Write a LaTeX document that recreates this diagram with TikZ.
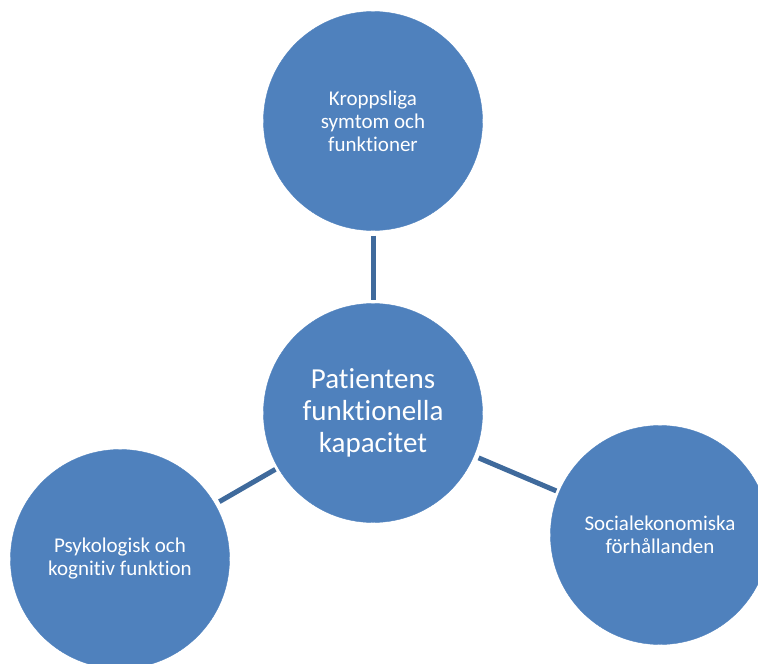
\documentclass[tikz,border=0pt]{standalone}
\usepackage{fontspec}
\setmainfont{Carlito}[Ligatures = NoCommon]
\usetikzlibrary{positioning}

\definecolor{ballblue}{HTML}{4F81BD}
\definecolor{linkblue}{HTML}{3F6A9C}

\tikzset{
	ball/.style = {circle, fill = ballblue, draw = ballblue, inner sep = 0pt, minimum size = 219pt,
		text = white, align = center, font = \fontsize{21}{23}\selectfont},
	hubball/.style = {ball, font = \fontsize{29}{32}\selectfont},
	link/.style = {linkblue, line width = 5pt, shorten <= 5pt, shorten >= 3pt}
}

\begin{document}
\begin{tikzpicture}[x = 1pt, y = -1pt]
					\useasboundingbox (0, 0) rectangle (758, 664);
					\node [hubball] (hub) at (373, 413) {Patientens\\funktionella\\kapacitet};
					\node [ball] (body) at (373, 121) {Kroppsliga\\symtom och\\funktioner};
					\node [ball] (mind) at (120, 559) {Psykologisk och\\kognitiv funktion};
					\node [ball] (social) at (660, 535) {Socialekonomiska\\förhållanden};
					\draw [link] (body) -- (hub);
					\draw [link] (mind) -- (hub);
					\draw [link] (hub) -- (social);
				\end{tikzpicture}
\end{document}
